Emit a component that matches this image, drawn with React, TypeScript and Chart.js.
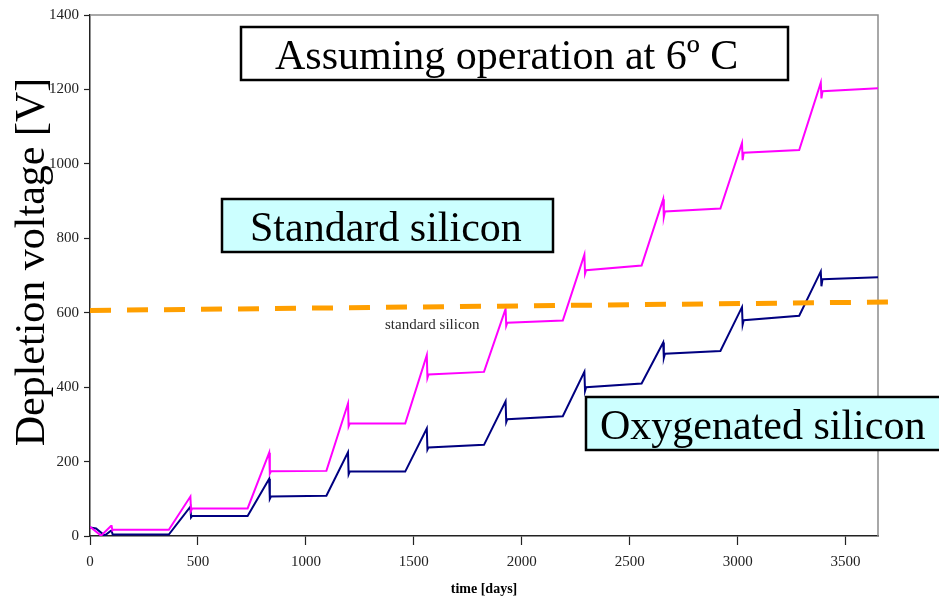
import { useEffect, useRef } from "react";
import { Chart, registerables } from "chart.js";

Chart.register(...registerables);

// Depletion voltage vs. time, standard silicon (pink) and oxygenated silicon (navy)
const standardDays = [
  0, 51, 97, 100, 104, 108, 365, 465, 468, 473, 730, 830, 833, 838, 1095, 1195, 1198, 1203, 1460,
  1560, 1563, 1568, 1825, 1925, 1928, 1933, 2190, 2290, 2293, 2298, 2555, 2655, 2658, 2663, 2920,
  3020, 3023, 3028, 3285, 3385, 3388, 3393, 3650,
];
const standardVoltage = [
  25, 1, 27, 27, 15, 17, 17, 106, 68, 74, 74, 224, 168, 174, 175, 356, 295, 302, 302,
  486, 425, 434, 441, 610, 565, 573, 579, 756, 705, 714, 727, 905, 858, 872, 880,
  1056, 1010, 1030, 1037, 1218, 1176, 1195, 1203,
];

const oxygenatedDays = [
  0, 28, 68, 97, 100, 105, 365, 465, 468, 473, 730, 830, 833, 838, 1095, 1195, 1198, 1203, 1460,
  1560, 1563, 1568, 1825, 1925, 1928, 1933, 2190, 2290, 2293, 2298, 2555, 2655, 2658, 2663, 2920,
  3020, 3023, 3028, 3285, 3385, 3388, 3393, 3650,
];
const oxygenatedVoltage = [
  23, 20, 1, 14, 14, 4, 4, 79, 50, 54, 54, 154, 100, 106, 108, 225, 166, 173, 173,
  289, 232, 238, 245, 362, 306, 314, 322, 441, 390, 400, 410, 520, 479, 490, 497,
  615, 568, 580, 592, 711, 671, 690, 695,
];

// reference level for standard silicon
const limitDays = [0, 3723];
const limitVoltage = [606, 629];

const xTickValues = [0, 500, 1000, 1500, 2000, 2500, 3000, 3500];

const toPoints = (xs: number[], ys: number[]) => xs.map((x, i) => ({ x, y: ys[i] }));

const SERIF = "'Liberation Serif', 'Times New Roman', serif";

function drawBox(
  ctx: CanvasRenderingContext2D,
  x: number,
  y: number,
  w: number,
  h: number,
  fill: string,
  text: string,
  textX: number,
  baseline: number
) {
  ctx.fillStyle = fill;
  ctx.fillRect(x, y, w, h);
  ctx.strokeStyle = "#000";
  ctx.lineWidth = 2.5;
  ctx.strokeRect(x, y, w, h);
  ctx.fillStyle = "#000";
  ctx.font = `42px ${SERIF}`;
  ctx.textAlign = "left";
  ctx.textBaseline = "alphabetic";
  ctx.fillText(text, textX, baseline);
}

const overlayPlugin = {
  id: "overlay",
  beforeDatasetsDraw(chart: Chart) {
    const { ctx, chartArea: a } = chart;
    ctx.save();
    ctx.strokeStyle = "#8c8c8c";
    ctx.lineWidth = 1.5;
    ctx.beginPath();
    ctx.moveTo(a.left, a.top);
    ctx.lineTo(a.right, a.top);
    ctx.lineTo(a.right, a.bottom);
    ctx.stroke();
    ctx.restore();
  },
  afterDraw(chart: Chart) {
    const { ctx } = chart;
    ctx.save();

    // vertical axis title
    ctx.save();
    ctx.translate(44, 262);
    ctx.rotate(-Math.PI / 2);
    ctx.fillStyle = "#000";
    ctx.font = `42px ${SERIF}`;
    ctx.textAlign = "center";
    ctx.textBaseline = "alphabetic";
    ctx.fillText("Depletion voltage [V]", 0, 0);
    ctx.restore();

    drawBox(ctx, 241, 27, 547, 53, "#ffffff", "Assuming operation at 6º C", 275, 69);
    drawBox(ctx, 222, 199, 331, 53, "#ccffff", "Standard silicon", 250, 241);
    drawBox(ctx, 586, 397, 370, 53, "#ccffff", "Oxygenated silicon", 600, 439);

    ctx.fillStyle = "#2a2a2a";
    ctx.font = `15px ${SERIF}`;
    ctx.textAlign = "left";
    ctx.textBaseline = "alphabetic";
    ctx.fillText("standard silicon", 385, 329);

    ctx.restore();
  },
};

export default function App() {
  const canvasRef = useRef<HTMLCanvasElement | null>(null);

  useEffect(() => {
    const canvas = canvasRef.current;
    if (!canvas) return;
    const chart = new Chart(canvas, {
      type: "scatter",
      data: {
        datasets: [
          {
            label: "standard silicon",
            data: toPoints(limitDays, limitVoltage),
            showLine: true,
            borderColor: "#ff9f00",
            borderWidth: 5,
            borderDash: [21, 16],
            pointRadius: 0,
            clip: false,
            tension: 0,
          },
          {
            label: "Standard silicon",
            data: toPoints(standardDays, standardVoltage),
            showLine: true,
            borderColor: "#ff00ff",
            borderWidth: 2,
            pointRadius: 0,
            tension: 0,
          },
          {
            label: "Oxygenated silicon",
            data: toPoints(oxygenatedDays, oxygenatedVoltage),
            showLine: true,
            borderColor: "#000080",
            borderWidth: 2,
            pointRadius: 0,
            tension: 0,
          },
        ],
      },
      options: {
        responsive: false,
        animation: false,
        layout: { padding: { left: 0, right: 61, top: 15, bottom: 0 } },
        plugins: {
          legend: { display: false },
          tooltip: { enabled: false },
          title: { display: false },
        },
        scales: {
          x: {
            type: "linear",
            min: 0,
            max: 3650,
            afterFit: (scale: any) => {
              scale.height = 64;
            },
            afterBuildTicks: (scale: any) => {
              scale.ticks = xTickValues.map((value) => ({ value }));
            },
            ticks: {
              includeBounds: false,
              color: "#222",
              padding: 8,
              maxRotation: 0,
              font: { family: SERIF, size: 15 },
              callback: (value: any) => String(value),
            },
            grid: {
              drawOnChartArea: false,
              drawTicks: true,
              tickLength: 9,
              tickColor: "#222",
              tickWidth: 1.2,
            },
            border: { display: true, color: "#222", width: 1.5 },
            title: {
              display: true,
              text: "time [days]",
              color: "#000",
              font: { family: SERIF, size: 14, weight: "bold" },
              padding: { top: 2, bottom: 2 },
            },
          },
          y: {
            type: "linear",
            min: 0,
            max: 1400,
            afterFit: (scale: any) => {
              scale.width = 90;
            },
            ticks: {
              stepSize: 200,
              color: "#222",
              padding: 5,
              font: { family: SERIF, size: 15 },
              callback: (value: any) => String(value),
            },
            grid: {
              drawOnChartArea: false,
              drawTicks: true,
              tickLength: 6,
              tickColor: "#222",
              tickWidth: 1.2,
            },
            border: { display: true, color: "#222", width: 1.5 },
          },
        },
      },
      plugins: [overlayPlugin],
    });
    return () => chart.destroy();
  }, []);

  return (
    <div style={{ position: "absolute", left: 0, top: 0, width: 939, height: 600, background: "#fff" }}>
      <canvas ref={canvasRef} width={939} height={600} style={{ display: "block" }} />
    </div>
  );
}
